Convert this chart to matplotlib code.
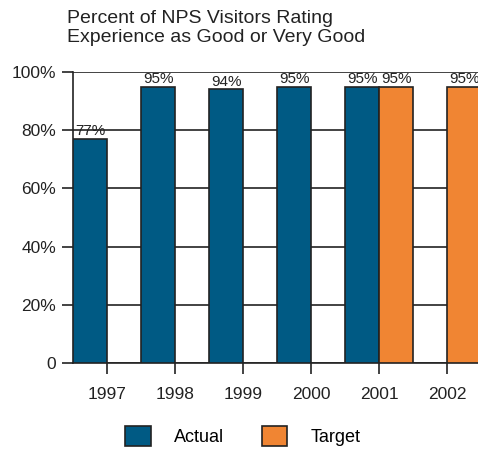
import matplotlib.pyplot as plt
from matplotlib.patches import Patch

plt.rcParams['font.family'] = ['Liberation Sans', 'DejaVu Sans']

## data
years = [1997, 1998, 1999, 2000, 2001, 2002]
actual_years = [1997, 1998, 1999, 2000, 2001]
actual = [77, 95, 94, 95, 95]
target_years = [2001, 2002]
target = [95, 95]

blue = "#005a84"
orange = "#f08533"
dark = "#222222"

fig = plt.figure(figsize=(4.78, 4.49), dpi=100)
ax = fig.add_axes([73/478, 1-363/449, 408/478, 291/449])

ax.bar(actual_years, actual, width=-0.5, align="edge", color=blue,
       edgecolor=dark, linewidth=1.2, zorder=3)
ax.bar(target_years, target, width=0.5, align="edge", color=orange,
       edgecolor=dark, linewidth=1.2, zorder=3)

for x, v in zip(actual_years, actual):
    ax.text(x-0.25, v+0.2, "%d%%" % v, ha="center", va="bottom",
            fontsize=11, color=dark)
for x, v in zip(target_years, target):
    ax.text(x+0.25, v+0.2, "%d%%" % v, ha="center", va="bottom",
            fontsize=11, color=dark)

ax.set_xlim(1996.5, 2002.5)
ax.set_ylim(0, 100)
ax.set_yticks([0, 20, 40, 60, 80, 100])
ax.set_yticklabels(["0", "20%", "40%", "60%", "80%", "100%"])
ax.set_xticks(years)
ax.set_xticklabels([str(y) for y in years])
ax.yaxis.grid(True, color=dark, linewidth=1.2, zorder=0)
ax.set_axisbelow(True)
ax.tick_params(axis="both", colors=dark, labelsize=12.5, width=1.2, length=8)
ax.tick_params(axis="x", pad=9)
ax.tick_params(axis="y", pad=4)
for s in ["top", "right"]:
    ax.spines[s].set_visible(False)
for s in ["left", "bottom"]:
    ax.spines[s].set_color(dark)
    ax.spines[s].set_linewidth(1.2)

fig.text(67/478, 1-10/449, "Percent of NPS Visitors Rating\nExperience as Good or Very Good",
         ha="left", va="top", fontsize=14, color=dark, linespacing=1.15)

handles = [Patch(facecolor=blue, edgecolor=dark, linewidth=1.2, label="Actual"),
           Patch(facecolor=orange, edgecolor=dark, linewidth=1.2, label="Target")]
fig.legend(handles=handles, loc="center", bbox_to_anchor=(243/478, 1-436/449),
           ncol=2, frameon=False, fontsize=13, handlelength=1.4, handleheight=1.3,
           columnspacing=2.1, handletextpad=1.3)

fig.savefig("out.png", dpi=100)
